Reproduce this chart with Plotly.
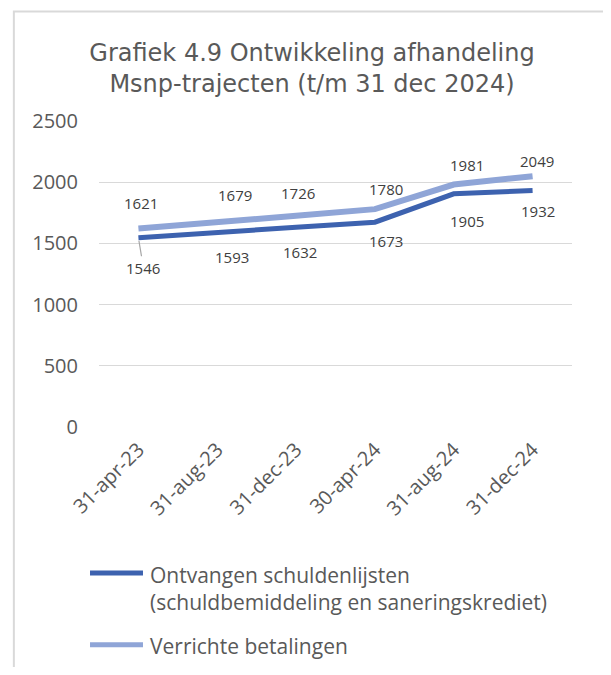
import plotly.graph_objects as go

# data
dates = ["31-apr-23", "31-aug-23", "31-dec-23", "30-apr-24", "31-aug-24", "31-dec-24"]
ontvangen = [1546, 1593, 1632, 1673, 1905, 1932]
betalingen = [1621, 1679, 1726, 1780, 1981, 2049]

NAME_ONTV = "Ontvangen schuldenlijsten<br>(schuldbemiddeling en saneringskrediet)"
NAME_BET = "Verrichte betalingen"

DARK = "#3D62AF"
LIGHT = "#8FA5D7"
TXT = "#595959"
LBL = "#404040"
FONT = "Open Sans"

# label offsets in px (Excel places these by hand)
ontv_dx = [5, 15, 4, 11, 13, 5]
ontv_dy = [-30, -25, -25, -19, -27, -20]
bet_dx = [3, 18, 2, 11, 13, 4]
bet_dy = [26, 26, 23, 20, 20, 15]

fig = go.Figure()
fig.add_trace(go.Scatter(x=dates, y=ontvangen, mode="lines", name=NAME_ONTV,
                         line=dict(color=DARK, width=5), hoverinfo="skip"))
fig.add_trace(go.Scatter(x=dates, y=betalingen, mode="lines", name=NAME_BET,
                         line=dict(color=LIGHT, width=6), hoverinfo="skip"))

for i, (d, v) in enumerate(zip(dates, ontvangen)):
    if i == 0:
        # first label has a leader line
        fig.add_annotation(x=d, y=v, text=str(v), showarrow=True, arrowhead=0,
                           arrowwidth=1.2, arrowcolor="#A6A6A6",
                           ax=ontv_dx[i], ay=-ontv_dy[i], standoff=3,
                           font=dict(family=FONT, size=15, color=LBL))
    else:
        fig.add_annotation(x=d, y=v, text=str(v), showarrow=False,
                           xshift=ontv_dx[i], yshift=ontv_dy[i],
                           font=dict(family=FONT, size=15, color=LBL))

for i, (d, v) in enumerate(zip(dates, betalingen)):
    fig.add_annotation(x=d, y=v, text=str(v), showarrow=False,
                       xshift=bet_dx[i], yshift=bet_dy[i],
                       font=dict(family=FONT, size=15, color=LBL))

# hand-drawn legend (Excel style: long line swatch, text aligned to first line)
legend_items = [(NAME_ONTV, DARK, -0.477), (NAME_BET, LIGHT, -0.712)]
for name, color, ly in legend_items:
    fig.add_shape(type="line", xref="paper", yref="paper",
                  x0=-0.019, x1=0.093, y0=ly, y1=ly,
                  line=dict(color=color, width=5))
    fig.add_annotation(xref="paper", yref="paper", x=0.1036, y=ly + 0.047,
                       xanchor="left", yanchor="top", align="left",
                       showarrow=False, text=name,
                       font=dict(family=FONT, size=21, color=TXT))

# outer chart frame (only top/left edges visible in the crop)
fig.add_shape(type="rect", xref="paper", yref="paper",
              x0=-0.18, x1=1.3, y0=-1.5, y1=1.358,
              line=dict(color="#D9D9D9", width=2), fillcolor="rgba(0,0,0,0)")

fig.update_layout(
    width=595, height=659,
    margin=dict(l=91, r=31, t=113, b=240),
    paper_bgcolor="white", plot_bgcolor="white",
    showlegend=False,
    title=dict(
        text="Grafiek 4.9 Ontwikkeling afhandeling<br>Msnp-trajecten (t/m 31 dec 2024)",
        font=dict(family="DejaVu Sans", size=24, color=TXT),
        x=(312 - 8) / 595, xref="container", xanchor="center",
        y=1 - (61 - 8) / 659, yref="container", yanchor="middle",
    ),
    xaxis=dict(
        type="category", range=[-0.5, 5.5], tickangle=-45,
        showgrid=False, showline=False,
        ticks="", ticklabelstandoff=6,
        tickfont=dict(family=FONT, size=20, color=TXT),
    ),
    yaxis=dict(
        range=[0, 2500], dtick=500, showgrid=True, gridcolor="#D9D9D9",
        gridwidth=1, zeroline=False, showline=False, ticks="",
        ticklabelstandoff=20,
        tickfont=dict(family=FONT, size=20, color=TXT),
    ),
)

fig.write_html("out.html")
